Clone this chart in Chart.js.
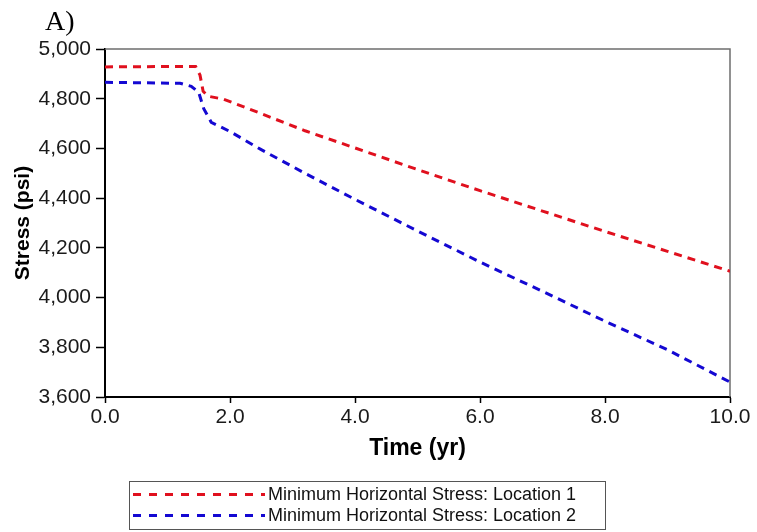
<!DOCTYPE html>
<html>
<head>
<meta charset="utf-8">
<script src="https://cdn.jsdelivr.net/npm/chart.js@4/dist/chart.umd.min.js"></script>
<style>
  html, body { margin: 0; padding: 0; background: #fff; }
  #wrap { width: 757px; height: 532px; }
</style>
</head>
<body>
<div id="wrap"><canvas id="c" width="757" height="532"></canvas></div>
<script>
// Minimum horizontal stress history at two locations (time in years, stress in psi)
const loc1Time   = [0, 1.45, 1.52, 1.57, 1.65, 1.9, 2.5, 3.2, 4, 5, 6, 7, 8, 9, 10];
const loc1Stress = [4928, 4930, 4895, 4830, 4810, 4798, 4740, 4671, 4602, 4515, 4430, 4348, 4266, 4186, 4106];

const loc2Time   = [0, 1.2, 1.38, 1.5, 1.58, 1.7, 2.0, 2.5, 3.2, 4, 5, 6, 7, 8, 9, 10];
const loc2Stress = [4866, 4862, 4850, 4825, 4760, 4705, 4668, 4595, 4500, 4395, 4268, 4143, 4025, 3905, 3790, 3660];

const seriesLabels = [
  'Minimum Horizontal Stress: Location 1',
  'Minimum Horizontal Stress: Location 2'
];
const xTickValues = [0, 2, 4, 6, 8, 10];
const yTickValues = [3600, 3800, 4000, 4200, 4400, 4600, 4800, 5000];

const RED = '#e0101e';
const BLUE = '#1408d2';

function toPoints(xs, ys) { return xs.map((x, i) => ({ x: x, y: ys[i] })); }

// Panel tag, top/right frame and the boxed legend under the axis title
const decorations = {
  id: 'decorations',
  beforeDatasetsDraw(chart) {
    const { ctx, chartArea: a } = chart;
    ctx.save();
    ctx.strokeStyle = '#6e6e6e';
    ctx.lineWidth = 1.5;
    ctx.beginPath();
    ctx.moveTo(a.left, a.top);
    ctx.lineTo(a.right, a.top);
    ctx.lineTo(a.right, a.bottom);
    ctx.stroke();
    ctx.restore();
  },
  afterDraw(chart) {
    const { ctx } = chart;
    ctx.save();
    // panel tag
    ctx.fillStyle = '#000';
    ctx.font = '28px "Liberation Serif", "Times New Roman", serif';
    ctx.textBaseline = 'alphabetic';
    ctx.textAlign = 'left';
    ctx.fillText('A)', 45, 30);

    // legend box
    const bx = 129.5, by = 481.5, bw = 476, bh = 48;
    ctx.strokeStyle = '#555';
    ctx.lineWidth = 1;
    ctx.strokeRect(bx, by, bw, bh);
    ctx.font = '18px "Liberation Sans", Arial, sans-serif';
    ctx.textBaseline = 'middle';
    const rows = [494.5, 515.5];
    chart.data.datasets.forEach((ds, i) => {
      const y = rows[i];
      ctx.strokeStyle = ds.borderColor;
      ctx.lineWidth = 3;
      ctx.setLineDash([8, 8]);
      ctx.beginPath();
      ctx.moveTo(133, y);
      ctx.lineTo(265, y);
      ctx.stroke();
      ctx.setLineDash([]);
      ctx.fillStyle = '#111';
      ctx.fillText(ds.label, 268, y + 1);
    });
    ctx.restore();
  }
};

new Chart(document.getElementById('c'), {
  type: 'scatter',
  data: {
    datasets: [
      {
        label: seriesLabels[0],
        data: toPoints(loc1Time, loc1Stress),
        showLine: true,
        borderColor: RED,
        backgroundColor: RED,
        borderWidth: 3,
        borderDash: [8, 6],
        pointRadius: 0,
        tension: 0
      },
      {
        label: seriesLabels[1],
        data: toPoints(loc2Time, loc2Stress),
        showLine: true,
        borderColor: BLUE,
        backgroundColor: BLUE,
        borderWidth: 3,
        borderDash: [8, 6],
        pointRadius: 0,
        tension: 0
      }
    ]
  },
  options: {
    responsive: false,
    animation: false,
    devicePixelRatio: 1,
    layout: { padding: { left: 0, right: 27, top: 49, bottom: 70 } },
    plugins: {
      legend: { display: false },
      tooltip: { enabled: false }
    },
    scales: {
      x: {
        type: 'linear',
        min: 0,
        max: 10,
        afterBuildTicks(scale) { scale.ticks = xTickValues.map(v => ({ value: v })); },
        afterFit(scale) { scale.height = 65; },
        ticks: {
          padding: 2,
          color: '#1a1a1a',
          font: { family: '"Liberation Sans", Arial, sans-serif', size: 21 },
          callback: v => Number(v).toFixed(1),
          maxRotation: 0
        },
        grid: {
          drawOnChartArea: false,
          drawTicks: true,
          tickLength: 6,
          tickColor: '#000',
          tickWidth: 1.5
        },
        border: { display: true, color: '#000', width: 2 },
        title: {
          display: true,
          text: 'Time (yr)',
          color: '#000',
          padding: { top: 0, bottom: 0 },
          font: { family: '"Liberation Sans", Arial, sans-serif', size: 23, weight: 'bold' }
        }
      },
      y: {
        min: 3600,
        max: 5000,
        afterBuildTicks(scale) { scale.ticks = yTickValues.map(v => ({ value: v })); },
        afterFit(scale) { scale.width = 105; },
        ticks: {
          padding: 5,
          color: '#1a1a1a',
          font: { family: '"Liberation Sans", Arial, sans-serif', size: 21 },
          callback: v => Number(v).toLocaleString('en-US')
        },
        grid: {
          drawOnChartArea: false,
          drawTicks: true,
          tickLength: 9,
          tickColor: '#000',
          tickWidth: 1.5
        },
        border: { display: true, color: '#000', width: 2 },
        title: {
          display: true,
          text: 'Stress (psi)',
          color: '#000',
          padding: { top: 11, bottom: 0 },
          font: { family: '"Liberation Sans", Arial, sans-serif', size: 21, weight: 'bold' }
        }
      }
    }
  },
  plugins: [decorations]
});
</script>
</body>
</html>
